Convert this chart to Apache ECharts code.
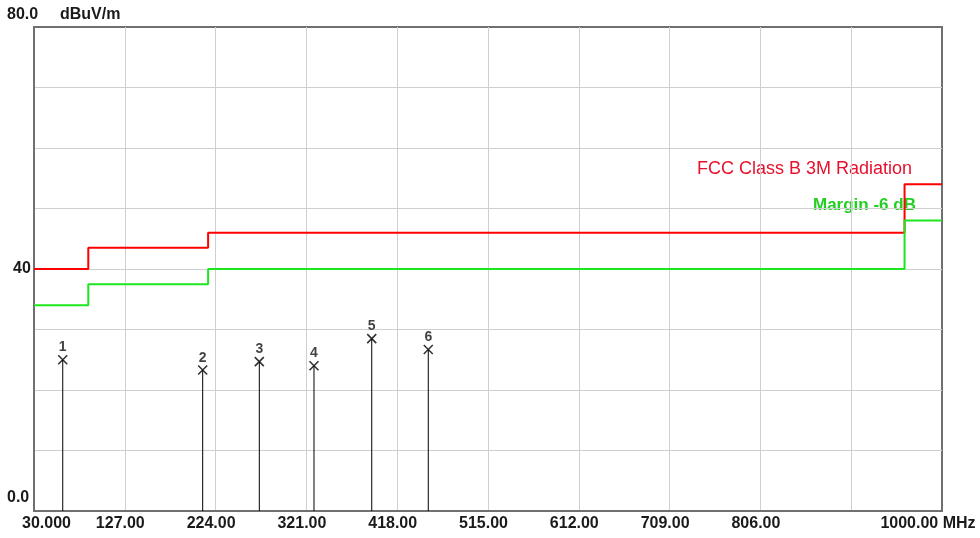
<!DOCTYPE html>
<html>
<head>
<meta charset="utf-8">
<script src="https://cdn.jsdelivr.net/npm/echarts@6/dist/echarts.min.js"></script>
<style>
html,body{margin:0;padding:0;background:#fff;}
#chart{width:980px;height:538px;}
</style>
</head>
<body>
<div id="chart"></div>
<script>
// ---- data ----
const xTickValues = [30, 127, 224, 321, 418, 515, 612, 709, 806, 903, 1000];
const xTickLabels = ['30.000', '127.00', '224.00', '321.00', '418.00', '515.00', '612.00', '709.00', '806.00', '', '1000.00 MHz'];
const yTickValues = [0, 10, 20, 30, 40, 50, 60, 70, 80];
const yTickLabels = ['0.0', '', '', '', '40', '', '', '', '80.0'];
const yUnit = 'dBuV/m';

const limitFreqs = [30, 88, 216, 960, 1000];
const fccLimit = [40, 43.5, 46, 54, 54];
const marginLimit = [34, 37.5, 40, 48, 48];
const fccName = 'FCC Class B 3M Radiation';
const marginName = 'Margin -6 dB';

const peakIds = ['1', '2', '3', '4', '5', '6'];
const peakFreqs = [60.7, 210.2, 270.7, 329.1, 390.8, 451.2];
const peakLevels = [25.0, 23.3, 24.7, 24.0, 28.5, 26.7];

// ---- build ----
const FONT = "'Liberation Sans', Arial, sans-serif";
const FS = 16;
const TXT = '#1a1a1a';
const zip = (xs, ys) => xs.map((x, i) => [x, ys[i]]);
const peakData = peakFreqs.map((f, i) => ({ value: [f, peakLevels[i]], name: peakIds[i] }));
const rs = pad => ({ padding: pad, fontFamily: FONT, fontWeight: 'bold', fontSize: FS, color: TXT });

const chart = echarts.init(document.getElementById('chart'), null, { renderer: 'canvas' });
chart.setOption({
  animation: false,
  backgroundColor: '#ffffff',
  grid: {
    left: 34, right: 38, top: 27, bottom: 27,
    show: true, borderColor: '#707070', borderWidth: 2, backgroundColor: 'transparent'
  },
  xAxis: {
    type: 'value', min: 30, max: 1000,
    axisLine: { show: true, lineStyle: { color: '#707070', width: 2 } },
    axisTick: { show: false, customValues: xTickValues },
    splitLine: { show: true, showMinLine: false, showMaxLine: false, lineStyle: { color: '#cfcfcf', width: 1 } },
    axisLabel: {
      customValues: xTickValues,
      margin: 5,
      color: TXT, fontFamily: FONT, fontWeight: 'bold', fontSize: FS,
      formatter: function (v) {
        const i = xTickValues.indexOf(Math.round(v));
        if (i < 0 || !xTickLabels[i]) return '';
        const key = i === 0 ? 'a' : (i === xTickValues.length - 1 ? 'z' : 'n');
        return '{' + key + '|' + xTickLabels[i] + '}';
      },
      rich: { a: rs([0, 0, 0, 25]), n: rs([0, 9, 0, 0]), z: rs([0, 28, 0, 0]) }
    }
  },
  yAxis: {
    type: 'value', min: 0, max: 80, interval: 10,
    name: yUnit, nameLocation: 'end', nameGap: 12,
    nameTextStyle: { align: 'left', verticalAlign: 'middle', padding: [0, 0, 0, 26], color: TXT, fontFamily: FONT, fontWeight: 'bold', fontSize: FS },
    axisLine: { show: true, lineStyle: { color: '#707070', width: 2 } },
    axisTick: { show: false },
    splitLine: { show: true, showMinLine: false, showMaxLine: false, lineStyle: { color: '#cfcfcf', width: 1 } },
    axisLabel: {
      align: 'left', margin: 27,
      color: TXT, fontFamily: FONT, fontWeight: 'bold', fontSize: FS,
      formatter: function (v) {
        const i = yTickValues.indexOf(Math.round(v));
        if (i < 0 || !yTickLabels[i]) return '';
        const key = i === 0 ? 'b' : (i === yTickValues.length - 1 ? 't' : 'm');
        return '{' + key + '|' + yTickLabels[i] + '}';
      },
      rich: { b: rs([0, 0, 26, 0]), m: rs([0, 0, 0, 6]), t: rs([0, 0, 24, 0]) }
    }
  },
  graphic: [
    { type: 'text', left: 697, top: 160, style: { text: fccName, fill: '#e8112d', font: '18px ' + FONT } },
    { type: 'text', left: 813, top: 197, style: { text: marginName, fill: '#22d022', font: 'bold 17px ' + FONT } }
  ],
  series: [
    {
      name: fccName, type: 'line', step: 'end', data: zip(limitFreqs, fccLimit),
      symbol: 'none', lineStyle: { color: '#ff0000', width: 2 }, z: 3
    },
    {
      name: marginName, type: 'line', step: 'end', data: zip(limitFreqs, marginLimit),
      symbol: 'none', lineStyle: { color: '#1ee61e', width: 2 }, z: 3
    },
    {
      name: 'stems', type: 'bar', data: peakData.map(d => d.value), barWidth: 1,
      itemStyle: { color: '#000000' }, z: 4
    },
    {
      name: 'peaks', type: 'scatter', data: peakData,
      symbol: 'path://M0,0L10,10M10,0L0,10', symbolSize: 9,
      itemStyle: { color: 'rgba(0,0,0,0)', borderColor: '#000000', borderWidth: 1.6 },
      label: {
        show: true, position: 'top', distance: 0,
        formatter: p => p.name,
        color: '#111111', fontFamily: FONT, fontWeight: 'bold', fontSize: 14
      },
      z: 5
    }
  ]
});
</script>
</body>
</html>
